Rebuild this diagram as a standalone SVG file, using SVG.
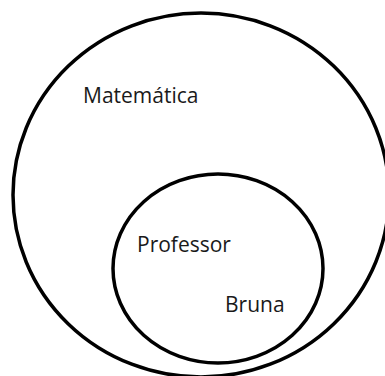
<svg xmlns="http://www.w3.org/2000/svg" width="385" height="376" viewBox="0 0 385 376">
<style>
.c{fill:none;stroke:#000;stroke-width:3.5}
.t{font-family:"Open Sans","Noto Sans",sans-serif;font-size:21px;fill:#1a1a1a}
</style>
<rect width="385" height="376" fill="#fff"/>
<g id="matematica">
<ellipse class="c" cx="201" cy="195" rx="188" ry="182"/>
<text class="t" x="83" y="103">Matemática</text>
</g>
<g id="professor">
<ellipse class="c" cx="218" cy="268.5" rx="105" ry="94.5"/>
<text class="t" x="137" y="252">Professor</text>
</g>
<g id="bruna">
<text class="t" x="225" y="312">Bruna</text>
</g>
<g id="connectors"/>
</svg>
